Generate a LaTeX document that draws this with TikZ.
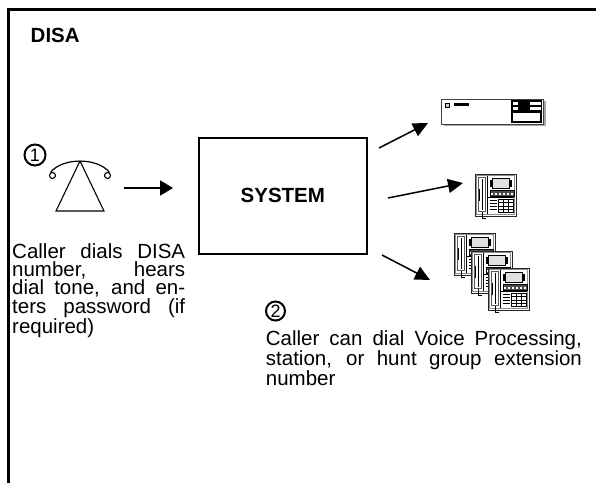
\documentclass[tikz,border=0pt]{standalone}
\usepackage{fontspec}
\setmainfont{Liberation Sans}
\usetikzlibrary{arrows.meta}

\newcommand{\bodyfont}{\fontsize{20.5}{18.3}\selectfont}

\tikzset{
  txt/.style={inner sep=0pt, font=\bodyfont},
  title/.style={inner sep=0pt, font=\bfseries\fontsize{20.5}{20.5}\selectfont},
  stepnum/.style={circle, draw, line width=2pt, inner sep=0pt,
    font=\fontsize{18}{18}\selectfont},
  flow/.style={line width=1.5pt, -{Triangle[length=15pt,width=14pt]}},
  pics/deskphone/.style={code={
    % base and handset cradle
    \filldraw[fill=white, draw=black!85, line width=0.9pt] (0,0) rectangle (41,42);
    \draw[black!45, line width=0.6pt] (1.6,1.6) rectangle (39.4,40.4);
    \draw[line width=0.7pt] (12.5,1.6) -- (12.5,40.4);
    \draw[black!65, line width=0.6pt] (3.6,3.6) rectangle (10,37.5);
    \draw[line width=0.6pt] (7.2,5) -- (7.2,36);
    \fill (3.6,15) rectangle (5.2,27);
    \draw[line width=0.9pt] (7.2,37.5) -- (7.2,44) -- (10.8,44);
    % display with side tabs
    \filldraw[fill=black!12, draw=black, line width=0.7pt] (17,4) rectangle (34.5,14);
    \fill (14.6,6) rectangle (16.6,12.5);
    \fill (35,6) rectangle (37,12.5);
    % row of feature keys
    \filldraw[fill=black!70, draw=black, line width=0.5pt] (15,16.5) rectangle (39,22);
    \foreach \k in {15.8,19.8,23.8,27.8,31.8,35.8}
      \fill[white] (\k,18.5) rectangle ++(2.4,2.5);
    \draw[line width=0.5pt] (12.5,23.5) -- (39.4,23.5);
    % side keys and dial pad
    \foreach \r in {26,29,32,35}
      \draw[line width=0.5pt] (14.5,\r) -- (22,\r);
    \draw[line width=0.6pt] (23.5,25) rectangle (38.5,38.5);
    \foreach \c in {28.5,33.5} \draw[line width=0.5pt] (\c,25) -- (\c,38.5);
    \foreach \r in {28.4,31.8,35.2} \draw[line width=0.5pt] (23.5,\r) -- (38.5,\r);
  }}
}

\begin{document}
\begin{tikzpicture}[x=1pt, y=-1pt]
\useasboundingbox (0,0) rectangle (596,483);

% open frame: top and left rules only
\draw[line width=2.7pt] (8.7,483) -- (8.7,9.7) -- (596,9.7);

\node[title, anchor=base west] (heading) at (30.5,42) {DISA};

% step 1: caller's telephone
\node[stepnum, minimum size=21pt] (one) at (35,155) {1};
\draw[line width=1.2pt] (50.5,172.5) .. controls (62,157.3) and (98,157.3) .. (109.5,172.5);
\draw[line width=1.1pt] (52.5,175.5) circle (3);
\draw[line width=1.1pt] (107.5,175.5) circle (3);
\draw[line width=1.1pt] (80,161) -- (56,211) -- (104,211) -- cycle;
\coordinate (callout) at (124,188);

\node[txt, anchor=base west] (callertxt) at (12,258.3) {\parbox[t]{173pt}{\bodyfont
  \makebox[173pt][s]{Caller dials DISA}\\
  \makebox[173pt][s]{number, hears}\\
  \makebox[173pt][s]{dial tone, and en-}\\
  \makebox[173pt][s]{ters password (if}\\
  required)}};

% the system
\node[draw, line width=2pt, minimum width=167.7pt, minimum height=116.3pt,
      inner sep=0pt, font=\bfseries\fontsize{20.5}{20.5}\selectfont]
  (system) at (282.8,195.9) {SYSTEM};
\coordinate (sysin) at (173,188);
\draw[line width=2pt, -{Triangle[length=13pt,width=15pt]}] (callout) -- (sysin);

% destinations
\coordinate (o1) at (379,148);
\coordinate (o2) at (388,198);
\coordinate (o3) at (382,255);
\coordinate (t1) at (428,123);
\coordinate (t2) at (463,183);
\coordinate (t3) at (430,280);
\draw[flow] (o1) -- (t1);
\draw[flow] (o2) -- (t2);
\draw[flow] (o3) -- (t3);

% voice processing unit
\fill[black!35] (443.5,124.3) rectangle (546,126.4);
\fill[black!35] (543.8,101) rectangle (546,126.4);
\filldraw[fill=white, draw=black!75, line width=0.8pt] (441.7,99.3) rectangle (543.8,124.3);
\filldraw[fill=black!20, draw=black, line width=0.8pt] (445.3,103) rectangle (449.3,107.2);
\fill (454.3,103.3) rectangle (469.3,106.2);
\fill (511,100) rectangle (541.7,123);
\fill[white] (513,101.8) rectangle (517.5,104.8);
\fill[white] (530,101.8) rectangle (540.5,104.8);
\fill[white] (513,106.6) rectangle (517.5,109.8);
\fill[white] (530,106.6) rectangle (540.5,109.8);
\fill[white] (512.8,112.6) rectangle (540.2,121.4);

% single station
\pic at (475,174) {deskphone};

% hunt group
\pic at (454,233) {deskphone};
\pic at (471,251) {deskphone};
\pic at (488,268) {deskphone};

% step 2
\node[stepnum, minimum size=19pt] (two) at (275.5,311) {2};
\node[txt, anchor=base west] (systxt) at (265.7,345) {\parbox[t]{316pt}{\bodyfont
  \makebox[316pt][s]{Caller can dial Voice Processing,}\\
  \makebox[316pt][s]{station, or hunt group extension}\\
  number}};
\end{tikzpicture}
\end{document}
